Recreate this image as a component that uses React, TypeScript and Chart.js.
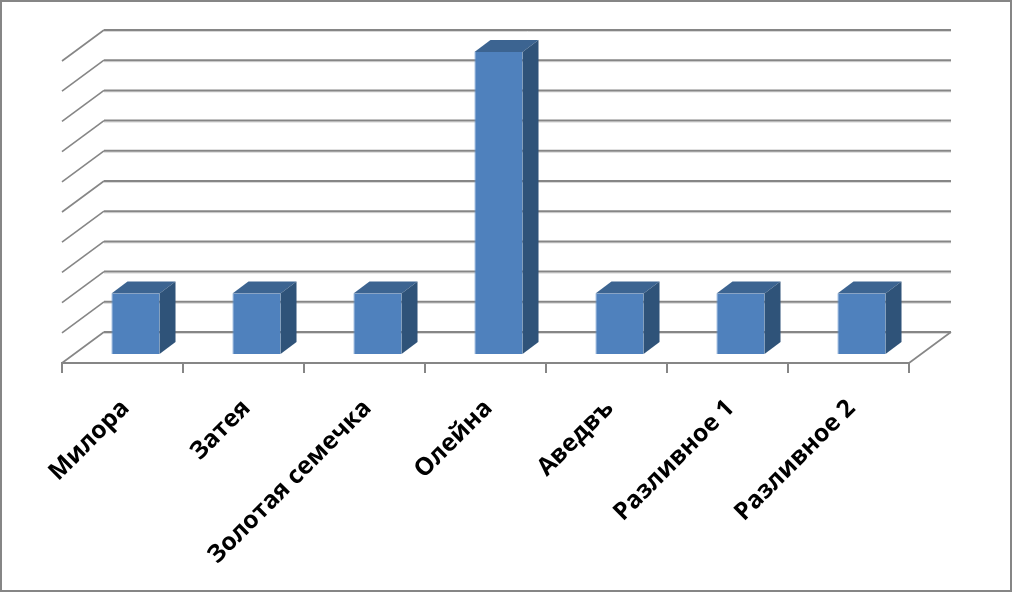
import React, { useEffect, useRef } from "react";
import { Chart, registerables } from "chart.js";

Chart.register(...registerables);

const categories = ["Милора", "Затея", "Золотая семечка", "Олейна", "Аведвъ", "Разливное 1", "Разливное 2"];
const values = [2, 2, 2, 10, 2, 2, 2];
const axisMax = 10;
const axisStep = 1;

const GRID = "#868686";
const GRID_SHADOW = "#d9d9d9";
const FACE = "#4F81BD";
const FACE_EDGE = "#6291CA";
const TOP = "#3C6491";
const SIDE = "#2F5379";

// depth of the floor, and of the bars standing in the middle of it
const WALL_DX = 42;
const WALL_DY = 31;
const BAR_DX = 13;
const BAR_DY = 9;
const BAR_DEPTH_DX = 16;
const BAR_DEPTH_DY = 12;

const frame3d = {
  id: "frame3d",
  beforeDraw(chart: any) {
    const { ctx, width, height } = chart;
    ctx.save();
    ctx.fillStyle = "#ffffff";
    ctx.fillRect(0, 0, width, height);
    ctx.strokeStyle = GRID;
    ctx.lineWidth = 2;
    ctx.strokeRect(1, 1, width - 2, height - 2);
    ctx.restore();
  },
  beforeDatasetsDraw(chart: any) {
    const { ctx, chartArea, scales } = chart;
    const { left, right } = chartArea;
    ctx.save();
    scales.y.ticks.forEach((t: any) => {
      const y = scales.y.getPixelForValue(t.value);
      // soft shadow under the wall line
      ctx.strokeStyle = GRID_SHADOW;
      ctx.lineWidth = 1;
      ctx.beginPath();
      ctx.moveTo(left + WALL_DX, y - WALL_DY + 1.5);
      ctx.lineTo(right + WALL_DX, y - WALL_DY + 1.5);
      ctx.stroke();
      ctx.strokeStyle = GRID;
      ctx.lineWidth = 1.6;
      ctx.beginPath();
      ctx.moveTo(left, y);
      ctx.lineTo(left + WALL_DX, y - WALL_DY);
      ctx.stroke();
      ctx.lineWidth = 2;
      ctx.beginPath();
      ctx.moveTo(left + WALL_DX, y - WALL_DY);
      ctx.lineTo(right + WALL_DX, y - WALL_DY);
      ctx.stroke();
      if (t.value === 0) {
        ctx.lineWidth = 1.6;
        ctx.beginPath();
        ctx.moveTo(right + WALL_DX, y - WALL_DY);
        ctx.lineTo(right, y);
        ctx.stroke();
      }
    });
    ctx.restore();
  },
  beforeDatasetDraw(chart: any, args: any) {
    const { ctx } = chart;
    const meta = chart.getDatasetMeta(args.index);
    ctx.save();
    ctx.translate(BAR_DX, -BAR_DY);
    meta.data.forEach((bar: any) => {
      const l = bar.x - bar.width / 2;
      const r = bar.x + bar.width / 2;
      const t = bar.y;
      const b = bar.base;
      ctx.fillStyle = TOP;
      ctx.beginPath();
      ctx.moveTo(l, t);
      ctx.lineTo(l + BAR_DEPTH_DX, t - BAR_DEPTH_DY);
      ctx.lineTo(r + BAR_DEPTH_DX, t - BAR_DEPTH_DY);
      ctx.lineTo(r, t);
      ctx.closePath();
      ctx.fill();
      ctx.fillStyle = SIDE;
      ctx.beginPath();
      ctx.moveTo(r, t);
      ctx.lineTo(r + BAR_DEPTH_DX, t - BAR_DEPTH_DY);
      ctx.lineTo(r + BAR_DEPTH_DX, b - BAR_DEPTH_DY);
      ctx.lineTo(r, b);
      ctx.closePath();
      ctx.fill();
    });
  },
  afterDatasetDraw(chart: any) {
    chart.ctx.restore();
  },
};

export default function App() {
  const ref = useRef<HTMLCanvasElement>(null);
  useEffect(() => {
    const chart = new Chart(ref.current as HTMLCanvasElement, {
      type: "bar",
      data: {
        labels: categories,
        datasets: [
          {
            data: values,
            backgroundColor: FACE,
            borderColor: FACE_EDGE,
            borderWidth: { left: 1, bottom: 1 },
            categoryPercentage: 1,
            barPercentage: 0.397,
            clip: false,
          } as any,
        ],
      },
      plugins: [frame3d],
      options: {
        responsive: false,
        animation: false,
        devicePixelRatio: 1,
        layout: { padding: { left: 62, right: 103, top: 61, bottom: 0 } },
        plugins: { legend: { display: false }, tooltip: { enabled: false }, title: { display: false } },
        scales: {
          x: {
            afterFit(scale: any) {
              scale.height = 229;
            },
            border: { display: true, color: GRID, width: 2 },
            grid: { display: true, drawOnChartArea: false, drawTicks: true, tickLength: 10, color: GRID, lineWidth: 2, offset: true },
            ticks: {
              autoSkip: false,
              minRotation: 45,
              maxRotation: 45,
              padding: 21,
              labelOffset: 3,
              color: "#000000",
              font: { family: "'Open Sans'", size: 24.5, weight: "bold" },
            },
          },
          y: {
            min: 0,
            max: axisMax,
            afterFit(scale: any) {
              scale.width = 0;
            },
            border: { display: false },
            grid: { display: false },
            ticks: { display: false, stepSize: axisStep },
          },
        },
      } as any,
    });
    return () => chart.destroy();
  }, []);
  return (
    <canvas
      ref={ref}
      width={1012}
      height={592}
      style={{ position: "fixed", left: 0, top: 0, width: 1012, height: 592, display: "block" }}
    />
  );
}
